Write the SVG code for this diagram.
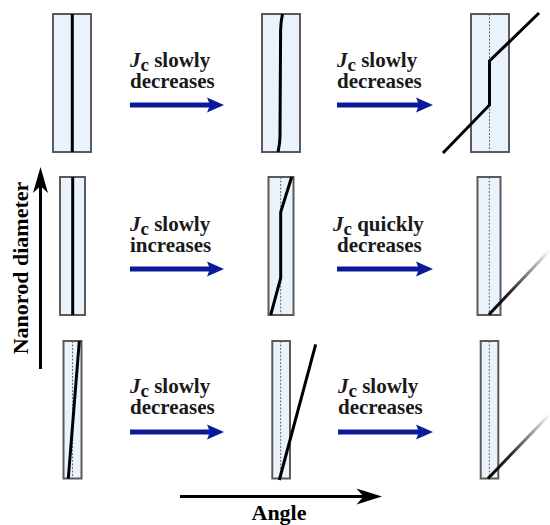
<svg xmlns="http://www.w3.org/2000/svg" width="550" height="525" viewBox="0 0 550 525">
<style>
.rod{fill:#eaf3fc;stroke:#5a5a5a;stroke-width:2}
.core{fill:none;stroke:#000;stroke-width:3;stroke-linejoin:miter}
.dash{fill:none;stroke:#666;stroke-width:1;stroke-dasharray:2,1.5}
.lbl{font-weight:bold;font-size:21px;fill:#1a1a1a}
.ax{font-weight:bold;font-size:22px;fill:#000}
.blue{stroke:#0b1a9a;stroke-width:5;fill:none}
.bluehead{fill:#0b1a9a}
.axis{stroke:#000;stroke-width:3;fill:none}
</style>
<defs>
<linearGradient id="fadeA" gradientUnits="userSpaceOnUse" x1="489" y1="314" x2="550" y2="250">
<stop offset="0" stop-color="#000" stop-opacity="1"/>
<stop offset="0.35" stop-color="#000" stop-opacity="0.85"/>
<stop offset="1" stop-color="#000" stop-opacity="0"/>
</linearGradient>
<linearGradient id="fadeB" gradientUnits="userSpaceOnUse" x1="488" y1="478" x2="550" y2="414">
<stop offset="0" stop-color="#000" stop-opacity="1"/>
<stop offset="0.35" stop-color="#000" stop-opacity="0.85"/>
<stop offset="1" stop-color="#000" stop-opacity="0"/>
</linearGradient>
</defs>

<!-- Row 1 -->
<g id="rod-r1c1">
<rect class="rod" x="53" y="14" width="38" height="138"/>
<line class="core" x1="72.3" y1="14" x2="72.3" y2="152"/>
</g>
<g id="rod-r1c2">
<rect class="rod" x="262" y="14" width="38" height="138"/>
<path class="core" d="M282.5,14 C281.2,20 280.6,24 280.6,30 L280,136 C280,143 279,147 278,152"/>
</g>
<g id="rod-r1c3">
<rect class="rod" x="471" y="14" width="38" height="138"/>
<line class="dash" x1="489.5" y1="14" x2="489.5" y2="152"/>
<path class="core" d="M443,153 L489.5,105 L489.5,61 L539,13"/>
</g>

<!-- Row 2 -->
<g id="rod-r2c1">
<rect class="rod" x="60" y="177" width="25" height="138"/>
<line class="core" x1="72.7" y1="177" x2="72.7" y2="315"/>
</g>
<g id="rod-r2c2">
<rect class="rod" x="268.5" y="177" width="25" height="138"/>
<line class="dash" x1="280.7" y1="177" x2="280.7" y2="315"/>
<path class="core" d="M270.7,315 L280.7,278 L280.7,212 L291.7,177"/>
</g>
<g id="rod-r2c3">
<rect class="rod" x="477.5" y="177" width="23" height="138"/>
<line class="dash" x1="489.3" y1="177" x2="489.3" y2="315"/>
<line x1="489" y1="314.5" x2="550" y2="250" stroke="url(#fadeA)" stroke-width="3"/>
</g>

<!-- Row 3 -->
<g id="rod-r3c1">
<rect class="rod" x="63.5" y="341" width="18" height="137.5"/>
<line class="dash" x1="72.6" y1="341" x2="72.6" y2="478.5"/>
<line class="core" x1="68.3" y1="478.5" x2="79.3" y2="341"/>
</g>
<g id="rod-r3c2">
<rect class="rod" x="272.3" y="341" width="17.7" height="137.5"/>
<line class="dash" x1="280.7" y1="341" x2="280.7" y2="478.5"/>
<line class="core" x1="279.3" y1="480" x2="315.7" y2="344.3"/>
</g>
<g id="rod-r3c3">
<rect class="rod" x="480.7" y="341" width="17.6" height="137.5"/>
<line class="dash" x1="489.3" y1="341" x2="489.3" y2="478.5"/>
<line x1="488" y1="478.5" x2="550" y2="414" stroke="url(#fadeB)" stroke-width="3"/>
</g>

<!-- Labels -->
<g font-family="Liberation Serif, Times New Roman, DejaVu Serif, serif">
<g id="label-r1a">
<text class="lbl" x="130" y="67"><tspan font-style="italic">J</tspan><tspan dy="4" font-size="19">c</tspan><tspan dy="-4"> slowly</tspan></text>
<text class="lbl" x="130" y="88">decreases</text>
</g>
<g id="label-r1b">
<text class="lbl" x="337" y="67"><tspan font-style="italic">J</tspan><tspan dy="4" font-size="19">c</tspan><tspan dy="-4"> slowly</tspan></text>
<text class="lbl" x="337" y="88">decreases</text>
</g>
<g id="label-r2a">
<text class="lbl" x="130" y="231"><tspan font-style="italic">J</tspan><tspan dy="4" font-size="19">c</tspan><tspan dy="-4"> slowly</tspan></text>
<text class="lbl" x="130" y="252">increases</text>
</g>
<g id="label-r2b">
<text class="lbl" x="333" y="231"><tspan font-style="italic">J</tspan><tspan dy="4" font-size="19">c</tspan><tspan dy="-4"> quickly</tspan></text>
<text class="lbl" x="337" y="252">decreases</text>
</g>
<g id="label-r3a">
<text class="lbl" x="130" y="393"><tspan font-style="italic">J</tspan><tspan dy="4" font-size="19">c</tspan><tspan dy="-4"> slowly</tspan></text>
<text class="lbl" x="130" y="414">decreases</text>
</g>
<g id="label-r3b">
<text class="lbl" x="338" y="393"><tspan font-style="italic">J</tspan><tspan dy="4" font-size="19">c</tspan><tspan dy="-4"> slowly</tspan></text>
<text class="lbl" x="338" y="414">decreases</text>
</g>

<!-- Axis labels -->
<g id="axis-y-label">
<text class="ax" transform="translate(28,268) rotate(-90)" text-anchor="middle">Nanorod diameter</text>
</g>
<g id="axis-x-label">
<text class="ax" x="279" y="520" text-anchor="middle">Angle</text>
</g>
</g>

<!-- Connectors -->
<g id="connectors">
<line class="blue" x1="130" y1="105" x2="210" y2="105"/>
<polygon class="bluehead" points="224,105 207,97.5 210,105 207,112.5"/>
<line class="blue" x1="337" y1="105" x2="419" y2="105"/>
<polygon class="bluehead" points="433,105 416,97.5 419,105 416,112.5"/>
<line class="blue" x1="130" y1="269" x2="210" y2="269"/>
<polygon class="bluehead" points="224,269 207,261.5 210,269 207,276.5"/>
<line class="blue" x1="337" y1="269" x2="419" y2="269"/>
<polygon class="bluehead" points="433,269 416,261.5 419,269 416,276.5"/>
<line class="blue" x1="130" y1="432" x2="210" y2="432"/>
<polygon class="bluehead" points="224,432 207,424.5 210,432 207,439.5"/>
<line class="blue" x1="338" y1="432" x2="419" y2="432"/>
<polygon class="bluehead" points="433,432 416,424.5 419,432 416,439.5"/>

<line class="axis" x1="40.5" y1="369" x2="40.5" y2="182"/>
<polygon points="40.5,167 48,193 40.5,186 33,193" fill="#000"/>
<line class="axis" x1="180" y1="496.5" x2="368" y2="496.5"/>
<polygon points="382,496.5 356.5,504.5 363.5,496.5 356.5,488.5" fill="#000"/>
</g>
</svg>
